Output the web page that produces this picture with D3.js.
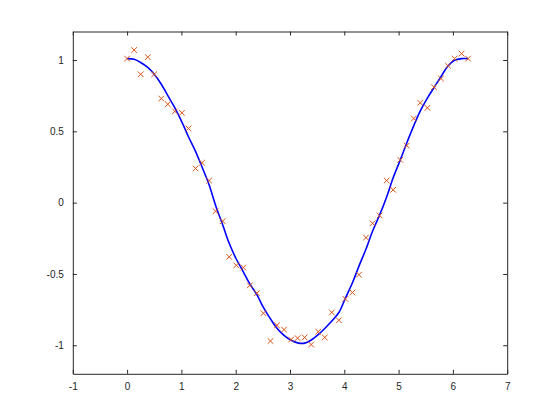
<!DOCTYPE html>
<html>
<head>
<meta charset="utf-8">
<title>noisy cosine with fit</title>
<script src="https://d3js.org/d3.v7.min.js"></script>
<style>
  body { margin: 0; background: #fff; }
  .axis text { font-family: "Liberation Sans", Arial, sans-serif; font-size: 10px; fill: #262626; }
  .axis path, .axis line { stroke: #262626; }
</style>
</head>
<body>
<div id="chart"></div>
<script>
// sample positions
var xs = [0, 0.13, 0.25, 0.38, 0.5, 0.63, 0.75, 0.88, 1.01, 1.13, 1.26, 1.38, 1.51, 1.63, 1.76,
  1.88, 2.01, 2.14, 2.26, 2.39, 2.51, 2.64, 2.76, 2.89, 3.02, 3.14, 3.27, 3.39, 3.52, 3.64,
  3.77, 3.9, 4.02, 4.15, 4.27, 4.4, 4.52, 4.65, 4.78, 4.9, 5.03, 5.15, 5.28, 5.4, 5.53,
  5.65, 5.78, 5.91, 6.03, 6.16, 6.28];
// noisy samples (red x markers)
var noisy = [1.01, 1.07, 0.9, 1.02, 0.9, 0.73, 0.69, 0.64, 0.63, 0.52, 0.24, 0.28, 0.155, -0.06, -0.13,
  -0.38, -0.44, -0.455, -0.58, -0.635, -0.775, -0.97, -0.86, -0.89, -0.96, -0.95, -0.945, -0.995, -0.905, -0.945,
  -0.77, -0.825, -0.675, -0.63, -0.505, -0.245, -0.145, -0.09, 0.155, 0.09, 0.3, 0.4, 0.59, 0.7, 0.665,
  0.81, 0.87, 0.96, 1.01, 1.045, 1.01];
// fitted curve (blue line)
var fitted = [1.01, 1.005, 0.983, 0.948, 0.9, 0.83, 0.75, 0.665, 0.565, 0.462, 0.36, 0.25, 0.125, -0.02, -0.155,
  -0.285, -0.395, -0.485, -0.57, -0.645, -0.735, -0.815, -0.88, -0.93, -0.965, -0.983, -0.985, -0.963, -0.925, -0.882,
  -0.83, -0.77, -0.67, -0.562, -0.445, -0.325, -0.2, -0.087, 0.04, 0.175, 0.298, 0.418, 0.54, 0.643, 0.733,
  0.805, 0.883, 0.958, 0.998, 1.01, 1.01];
var xTicks = [-1, 0, 1, 2, 3, 4, 5, 6, 7];
var yTicks = [-1, -0.5, 0, 0.5, 1];

var W = 560, H = 420;
var m = {left: 72.8, top: 31.5, right: 560 - 507.2, bottom: 420 - 373.8};
var w = W - m.left - m.right, h = H - m.top - m.bottom;

var svg = d3.select("#chart").append("svg")
    .attr("width", W)
    .attr("height", H);
var g = svg.append("g")
    .attr("transform", "translate(" + m.left + "," + m.top + ")");

var x = d3.scaleLinear().domain([-1, 7]).range([0, w]);
var y = d3.scaleLinear().domain([-1.2, 1.2]).range([h, 0]);
var fmt = function(d) { return String(d); };

// axes with inward ticks on all four sides
g.append("g").attr("class", "axis")
    .attr("transform", "translate(0," + h + ")")
    .call(d3.axisBottom(x).tickValues(xTicks).tickFormat(fmt).tickSizeInner(-4).tickSizeOuter(0).tickPadding(9));
g.append("g").attr("class", "axis")
    .call(d3.axisTop(x).tickValues(xTicks).tickSizeInner(-4).tickSizeOuter(0).tickFormat(""));
g.append("g").attr("class", "axis")
    .call(d3.axisLeft(y).tickValues(yTicks).tickFormat(fmt).tickSizeInner(-4).tickSizeOuter(0).tickPadding(9));
g.append("g").attr("class", "axis")
    .attr("transform", "translate(" + w + ",0)")
    .call(d3.axisRight(y).tickValues(yTicks).tickSizeInner(-4).tickSizeOuter(0).tickFormat(""));
g.selectAll(".axis .domain").attr("stroke-width", 1);

var pts = xs.map(function(d, i) { return {x: d, n: noisy[i], f: fitted[i]}; });

// fitted line
var line = d3.line()
    .x(function(d) { return x(d.x); })
    .y(function(d) { return y(d.f); })
    .curve(d3.curveCatmullRom);
g.append("path")
    .datum(pts)
    .attr("fill", "none")
    .attr("stroke", "#0000ff")
    .attr("stroke-width", 1.6)
    .attr("d", line);

// x markers
var s = 2.8;
g.append("g").selectAll("path.mk")
    .data(pts)
    .enter().append("path")
    .attr("class", "mk")
    .attr("fill", "none")
    .attr("stroke", "#d95319")
    .attr("stroke-width", 1)
    .attr("d", function(d) {
      var cx = x(d.x), cy = y(d.n);
      return "M" + (cx - s) + "," + (cy - s) + "L" + (cx + s) + "," + (cy + s) +
             "M" + (cx - s) + "," + (cy + s) + "L" + (cx + s) + "," + (cy - s);
    });
</script>
</body>
</html>
